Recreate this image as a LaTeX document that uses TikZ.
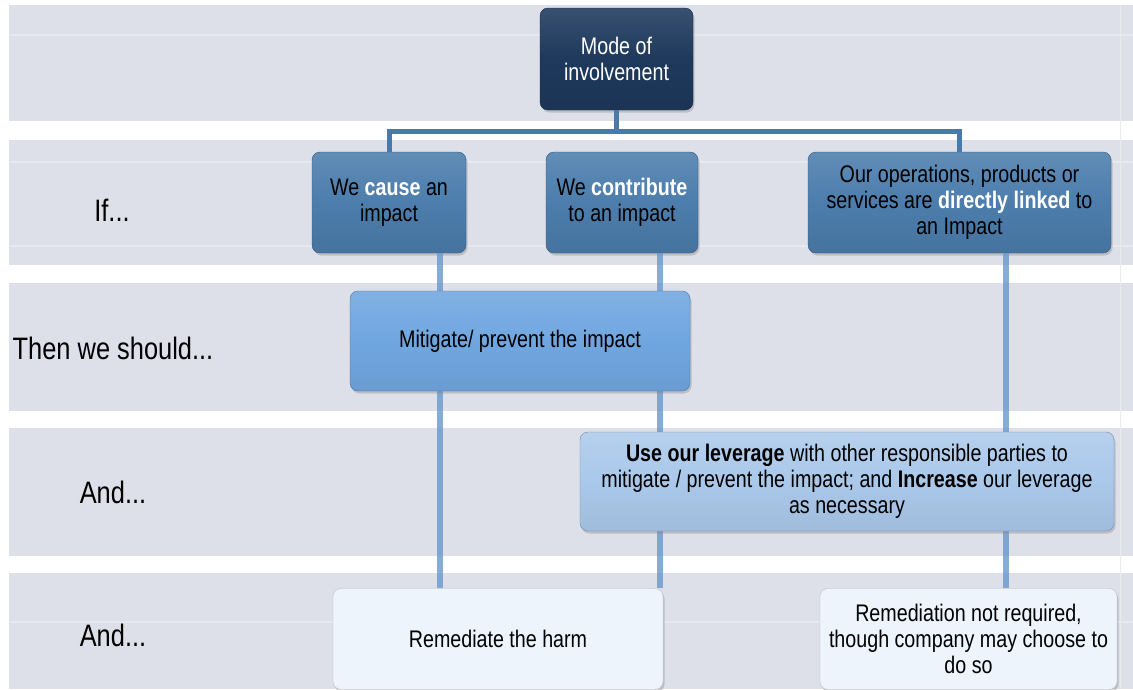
\documentclass[tikz,border=0pt]{standalone}
\usepackage{fontspec}
\setmainfont{Liberation Sans}[FakeStretch=0.82]
\usetikzlibrary{positioning, calc, shadows, backgrounds}
\definecolor{cBand}{RGB}{221,224,232}
\definecolor{cNavy}{RGB}{30,57,92}
\definecolor{cSteel}{RGB}{76,125,172}
\definecolor{cSky}{RGB}{112,166,224}
\definecolor{cPale}{RGB}{170,200,234}
\definecolor{cIce}{RGB}{237,244,252}
\definecolor{cLine}{RGB}{104,152,204}
\definecolor{cStem}{RGB}{74,122,170}
\newcommand\boxfont{\fontsize{24}{26}\selectfont}
\newcommand\rowfont{\fontsize{31}{35}\selectfont}
\newcommand\hl[1]{\textcolor{white}{\textbf{#1}}}
\tikzset{
	box/.style={rectangle, rounded corners=8pt, align=center, font=\boxfont, draw=black!30, inner sep=2pt,
		drop shadow={shadow xshift=1.5pt, shadow yshift=-2.5pt, opacity=0.35}},
	topbox/.style ={box, minimum width=153, minimum height=102, text=white, draw=cNavy!70!black,
		top color=cNavy!88!white, bottom color=cNavy!92!black, middle color=cNavy},
	ifbox/.style  ={box, minimum height=101, draw=cSteel!70!black,
		top color=cSteel!88!white, bottom color=cSteel!92!black, middle color=cSteel},
	thenbox/.style={box, minimum height=100, draw=cSky!70!black,
		top color=cSky!88!white, bottom color=cSky!94!black, middle color=cSky},
	andbox/.style ={box, minimum height=99, draw=cPale!70!black,
		top color=cPale!85!white, bottom color=cPale!94!black, middle color=cPale},
	rembox/.style ={box, minimum height=101, draw=black!25, fill=cIce},
	rowlabel/.style={font=\rowfont},
	% connectors
	stem/.style={draw=cStem, line width=5pt},
	vline/.style={draw=cLine, line width=6pt, opacity=0.8},
}

\begin{document}
\begin{tikzpicture}[x=1pt, y=-1pt]
	\useasboundingbox (0,0) rectangle (1133,689);
	% background bands
	\foreach \a/\b in {5/121, 140/265, 283/411, 428/556, 573/689}
		\fill[cBand] (9,\a) rectangle (1133,\b);
	\foreach \y in {35, 162, 246, 622}
		\draw[white, opacity=0.3, line width=1.5pt] (9,\y) -- (1133,\y);
	\draw[black!8, line width=1pt] (1120,5) -- (1120,689);

	\node[topbox]  (mode)    at (616.5,59)  {Mode of\\involvement};
	\node[ifbox, minimum width=154] (cause)   at (389,202.5) {We \hl{cause} an\\impact};
	\node[ifbox, minimum width=152] (contrib) at (622,202.5) {We \hl{contribute}\\to an impact};
	\node[ifbox, minimum width=303] (linked)  at (959.5,202.5)
		{Our operations, products or\\services are \hl{directly linked} to\\an Impact};

	\node[rowlabel] (lif)   at (112,210) {If...};
	\node[rowlabel] (lthen) at (113,348) {Then we should...};
	\node[rowlabel] (land1) at (113,492) {And...};
	\node[rowlabel] (land2) at (113,635) {And...};

	\node[rembox, minimum width=330] (remed)  at (498,639)   {Remediate the harm};
	\node[rembox, minimum width=297] (remnot) at (968.5,639)
		{Remediation not required,\\though company may choose to\\do so};

	\draw[vline] ([xshift=51]cause.south)   -- ([xshift=51]cause.south |- remed.north);
	\draw[vline] ([xshift=38]contrib.south) -- ([xshift=38]contrib.south |- remed.north);
	\draw[vline] ([xshift=46]linked.south)  -- ([xshift=46]linked.south |- remnot.north);

	\node[thenbox, minimum width=340] (mitig) at (520,341) {Mitigate/ prevent the impact};
	\node[andbox, minimum width=534]  (lever) at (847,481.5)
		{\textbf{Use our leverage} with other responsible parties to\\mitigate / prevent the impact; and \textbf{Increase} our leverage\\as necessary};

	\coordinate (bus) at (616.5,131);
	\draw[stem] (mode.south) -- (bus);
	\draw[stem] (cause.north) |- (bus) -| (linked.north);
\end{tikzpicture}
\end{document}
